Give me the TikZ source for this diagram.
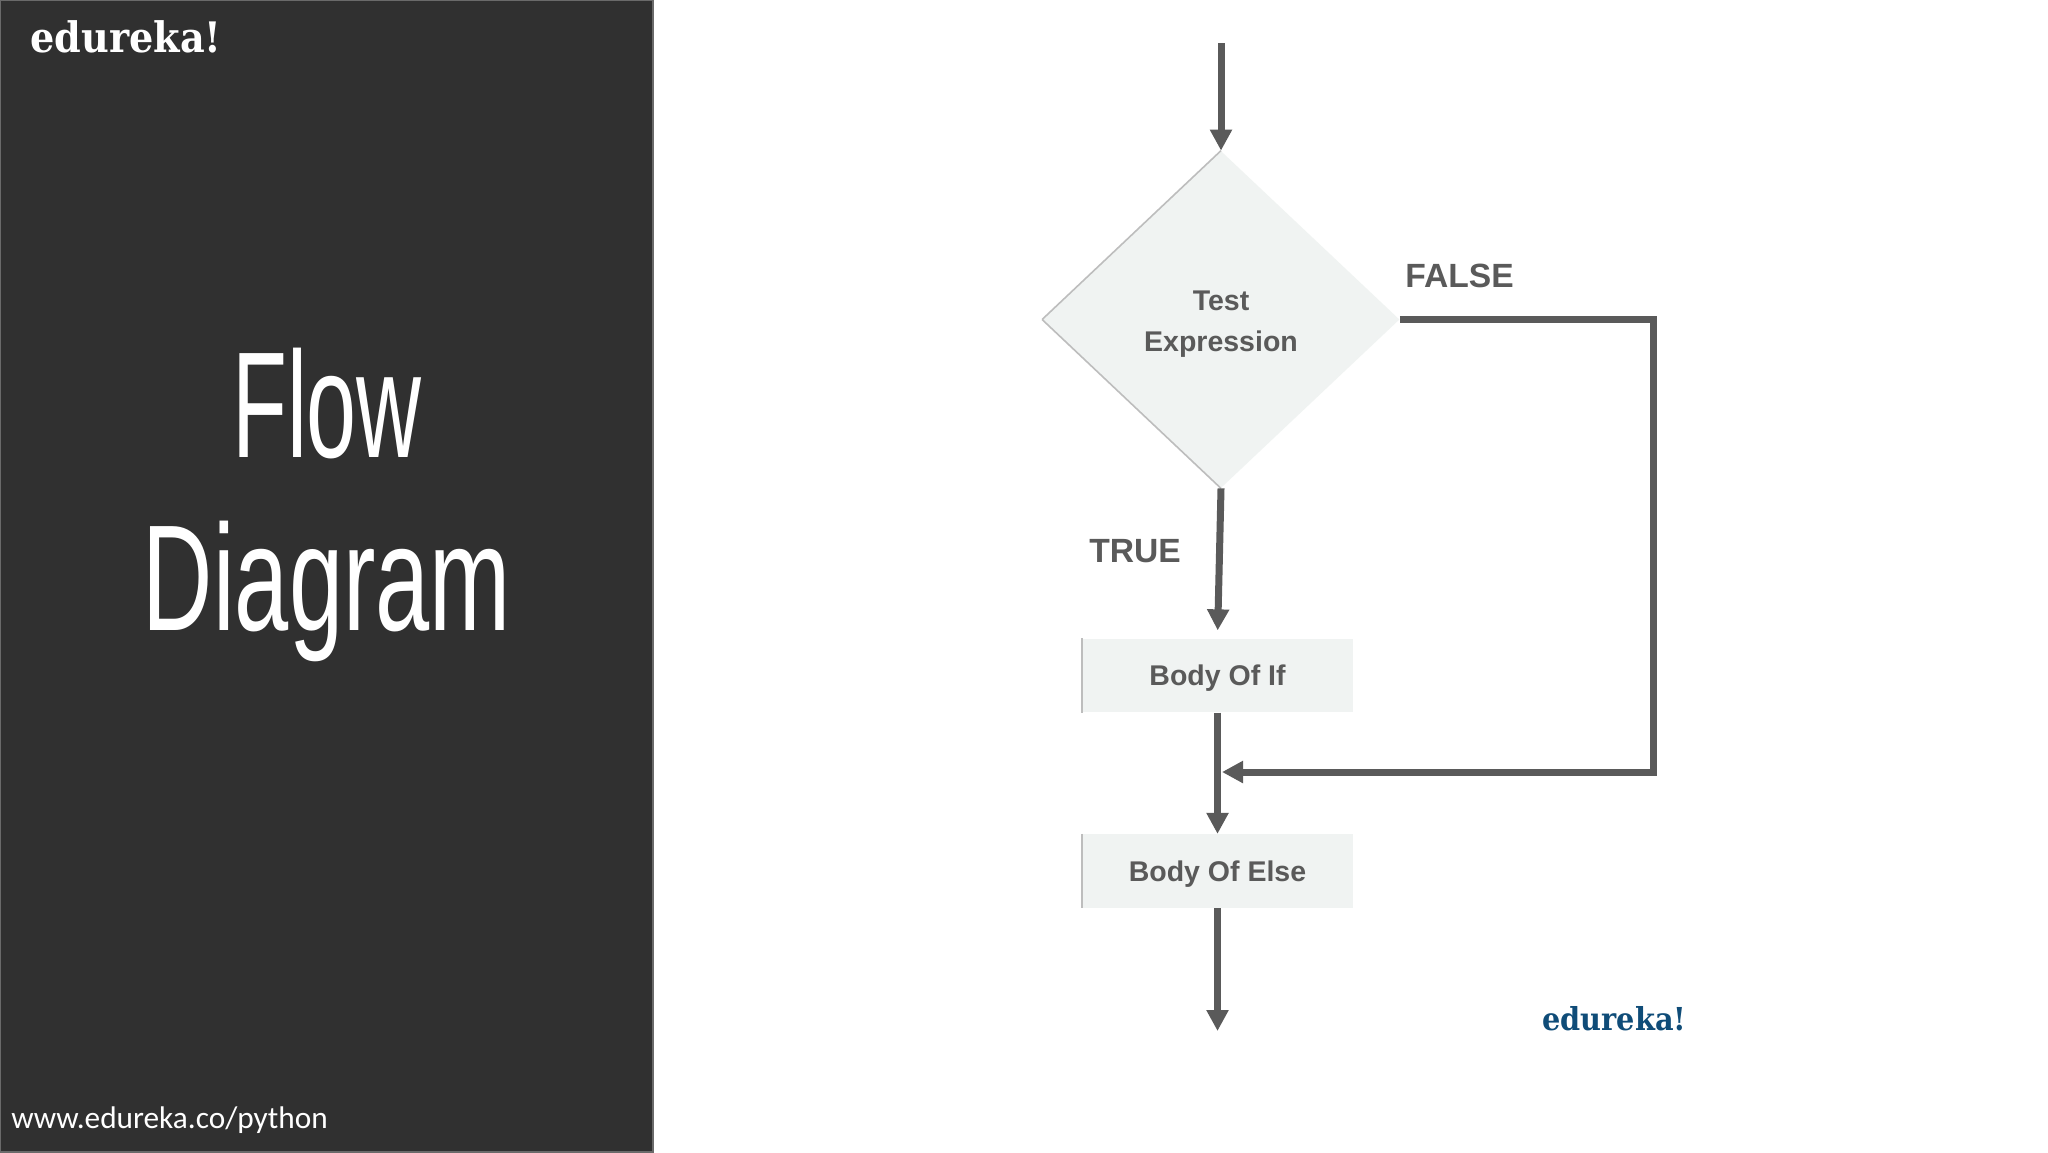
\documentclass[tikz,border=0pt]{standalone}
\usepackage{fontspec}
\setmainfont{Liberation Sans}
\newfontfamily\flowfont[FakeStretch=0.595]{Liberation Sans}
\newfontfamily\diagramfont[FakeStretch=0.645]{Liberation Sans}
\newfontfamily\logofont[FakeStretch=0.91]{DejaVu Serif}
\newfontfamily\urlfont{Carlito}
\usetikzlibrary{shapes.geometric}
\usetikzlibrary{arrows.meta}
\definecolor{panelgray}{HTML}{303030}
\definecolor{paneledge}{HTML}{6A6A6A}
\definecolor{linegray}{HTML}{5A5A5A}
\definecolor{boxfill}{HTML}{F0F3F2}
\definecolor{boxedge}{HTML}{BDBDBD}
\definecolor{logoblue}{HTML}{0F4C78}

\begin{document}
\begin{tikzpicture}[x=0.5pt, y=-0.5pt,
    flowline/.style={line width=3.5pt, draw=linegray, -{Triangle[length=10.5pt, width=10.5pt]}},
    flowbox/.style={rectangle, fill=boxfill, inner sep=0pt, minimum width=135pt, minimum height=36.75pt,
        text height=12pt, text depth=1.7pt, text=linegray, font=\fontsize{14.25}{20}\selectfont\bfseries},
    flowtest/.style={diamond, fill=boxfill, inner sep=0pt, aspect=1.06, minimum width=178.5pt, minimum height=168.5pt,
        text=linegray, align=center, font=\fontsize{14.25}{20.5}\selectfont\bfseries},
    flowlabel/.style={anchor=base west, inner sep=0pt, text=linegray, font=\fontsize{16.8}{20}\selectfont\bfseries},
    edgeline/.style={line width=0.8pt, draw=boxedge},
    titletext/.style={anchor=base, inner sep=0pt, text=white},
    logotext/.style={anchor=base west, inner sep=0pt}]

    \useasboundingbox (0,0) rectangle (2048,1152);
    \fill[white] (0,0) rectangle (2048,1152);

    % left panel
    \draw[fill=panelgray, draw=paneledge, line width=0.75pt] (0,0) rectangle (653,1152);

    \node[logotext, text=white, font=\logofont\bfseries\fontsize{21}{25}\selectfont] (toplogo) at (30,52) {edureka!};

    \node[titletext, font=\flowfont\fontsize{75.5}{90}\selectfont] (flow) at (327,457) {Flow};

    \node[titletext, font=\diagramfont\fontsize{75.5}{90}\selectfont] (diagram) at (327,630) {Diagram};

    \node[anchor=base west, inner sep=0pt, text=white, font=\urlfont\fontsize{15.65}{18}\selectfont] (url) at (11,1128) {www.edureka.co/python};

    % flow chart
    \coordinate (start) at (1221,43);

    \node[flowtest] (test) at (1221,319.5) {\rule{0pt}{14.3pt}Test\\Expression};

    \node[flowbox] (ifbox) at (1217.5,675.5) {Body Of If};

    \node[flowbox] (elsebox) at (1217.5,871) {Body Of Else};

    \coordinate (stop) at (1217.5,1031);
    \coordinate (topcorner) at (1653,319.5);
    \coordinate (botcorner) at (1653,772);
    \coordinate (merge) at (1222,772);

    \draw[edgeline] (test.north) to (test.west);
    \draw[edgeline] (test.west) to (test.south);
    \draw[edgeline] (ifbox.north west) to (ifbox.south west);
    \draw[edgeline] (elsebox.north west) to (elsebox.south west);

    \draw[flowline] (start) to (test.north);
    \draw[flowline, shorten >=4pt] (test.south) to (ifbox.north);
    \draw[flowline] (ifbox.south) to (elsebox.north);
    \draw[flowline] (elsebox.south) to (stop);
    \draw[flowline] (test.east) -- (topcorner) -- (botcorner) -- (merge);

    \node[flowlabel] (false) at (1405,287) {FALSE};

    \node[flowlabel] (true) at (1089,562) {TRUE};

    \node[logotext, text=logoblue, font=\logofont\bfseries\fontsize{15.8}{19}\selectfont] (botlogo) at (1542,1030) {edureka!};

\end{tikzpicture}
\end{document}
